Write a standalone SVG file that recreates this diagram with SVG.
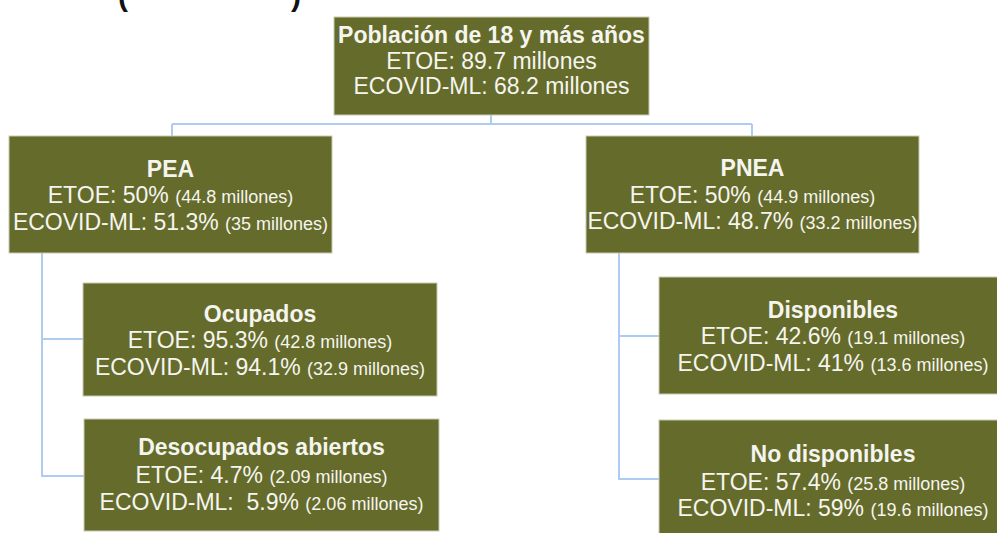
<svg xmlns="http://www.w3.org/2000/svg" width="997" height="533" viewBox="0 0 997 533">
<style>
.box{fill:#656b2b;stroke:#c9cbb2;stroke-width:1}
text{font-family:"Liberation Sans",Arial,sans-serif;fill:#f5f5ef;text-anchor:middle;white-space:pre}
.t{font-weight:bold;font-size:23px}
.l{font-size:23px}
.s{font-size:18px}
.conn{fill:none;stroke:#aecbf2;stroke-width:2}
.hd{font-family:"Liberation Sans",Arial,sans-serif;font-weight:bold;font-size:30px;fill:#111;text-anchor:start}
</style>
<rect width="997" height="533" fill="#ffffff"/>
<text class="hd" x="118" y="6">(</text>
<text class="hd" x="291" y="6">)</text>
<g id="connectors">
<path class="conn" d="M491,115 V124 M172,124 H752 M172,124 V136 M752,124 V136"/>
<path class="conn" d="M42,253 V476 H84 M42,339 H84"/>
<path class="conn" d="M619,253 V479 H659 M619,336 H659"/>
</g>
<g id="poblacion">
<rect class="box" x="334" y="17" width="315" height="98"/>
<text class="t" x="491.5" y="43">Población de 18 y más años</text>
<text class="l" x="491.5" y="69">ETOE: 89.7 millones</text>
<text class="l" x="491.5" y="94">ECOVID-ML: 68.2 millones</text>
</g>
<g id="pea">
<rect class="box" x="9" y="136" width="323" height="117"/>
<text class="t" x="170.5" y="177">PEA</text>
<text class="l" x="170.5" y="203">ETOE: 50% <tspan class="s">(44.8 millones)</tspan></text>
<text class="l" x="170.5" y="230">ECOVID-ML: 51.3% <tspan class="s">(35 millones)</tspan></text>
</g>
<g id="pnea">
<rect class="box" x="586" y="136" width="333" height="117"/>
<text class="t" x="752.5" y="176">PNEA</text>
<text class="l" x="752.5" y="203">ETOE: 50% <tspan class="s">(44.9 millones)</tspan></text>
<text class="l" x="752.5" y="229">ECOVID-ML: 48.7% <tspan class="s">(33.2 millones)</tspan></text>
</g>
<g id="ocupados">
<rect class="box" x="83" y="283" width="354" height="113"/>
<text class="t" x="260" y="322">Ocupados</text>
<text class="l" x="260" y="348">ETOE: 95.3% <tspan class="s">(42.8 millones)</tspan></text>
<text class="l" x="260" y="375">ECOVID-ML: 94.1% <tspan class="s">(32.9 millones)</tspan></text>
</g>
<g id="desocupados">
<rect class="box" x="84" y="419" width="355" height="112"/>
<text class="t" x="261.5" y="455">Desocupados abiertos</text>
<text class="l" x="261.5" y="483">ETOE: 4.7% <tspan class="s">(2.09 millones)</tspan></text>
<text class="l" x="261.5" y="510">ECOVID-ML:  5.9% <tspan class="s">(2.06 millones)</tspan></text>
</g>
<g id="disponibles">
<rect class="box" x="659" y="277" width="350" height="117"/>
<text class="t" x="833" y="318">Disponibles</text>
<text class="l" x="833" y="344">ETOE: 42.6% <tspan class="s">(19.1 millones)</tspan></text>
<text class="l" x="833" y="371">ECOVID-ML: 41% <tspan class="s">(13.6 millones)</tspan></text>
</g>
<g id="no-disponibles">
<rect class="box" x="659" y="420" width="350" height="120"/>
<text class="t" x="833" y="462">No disponibles</text>
<text class="l" x="833" y="490">ETOE: 57.4% <tspan class="s">(25.8 millones)</tspan></text>
<text class="l" x="833" y="516">ECOVID-ML: 59% <tspan class="s">(19.6 millones)</tspan></text>
</g>
</svg>
